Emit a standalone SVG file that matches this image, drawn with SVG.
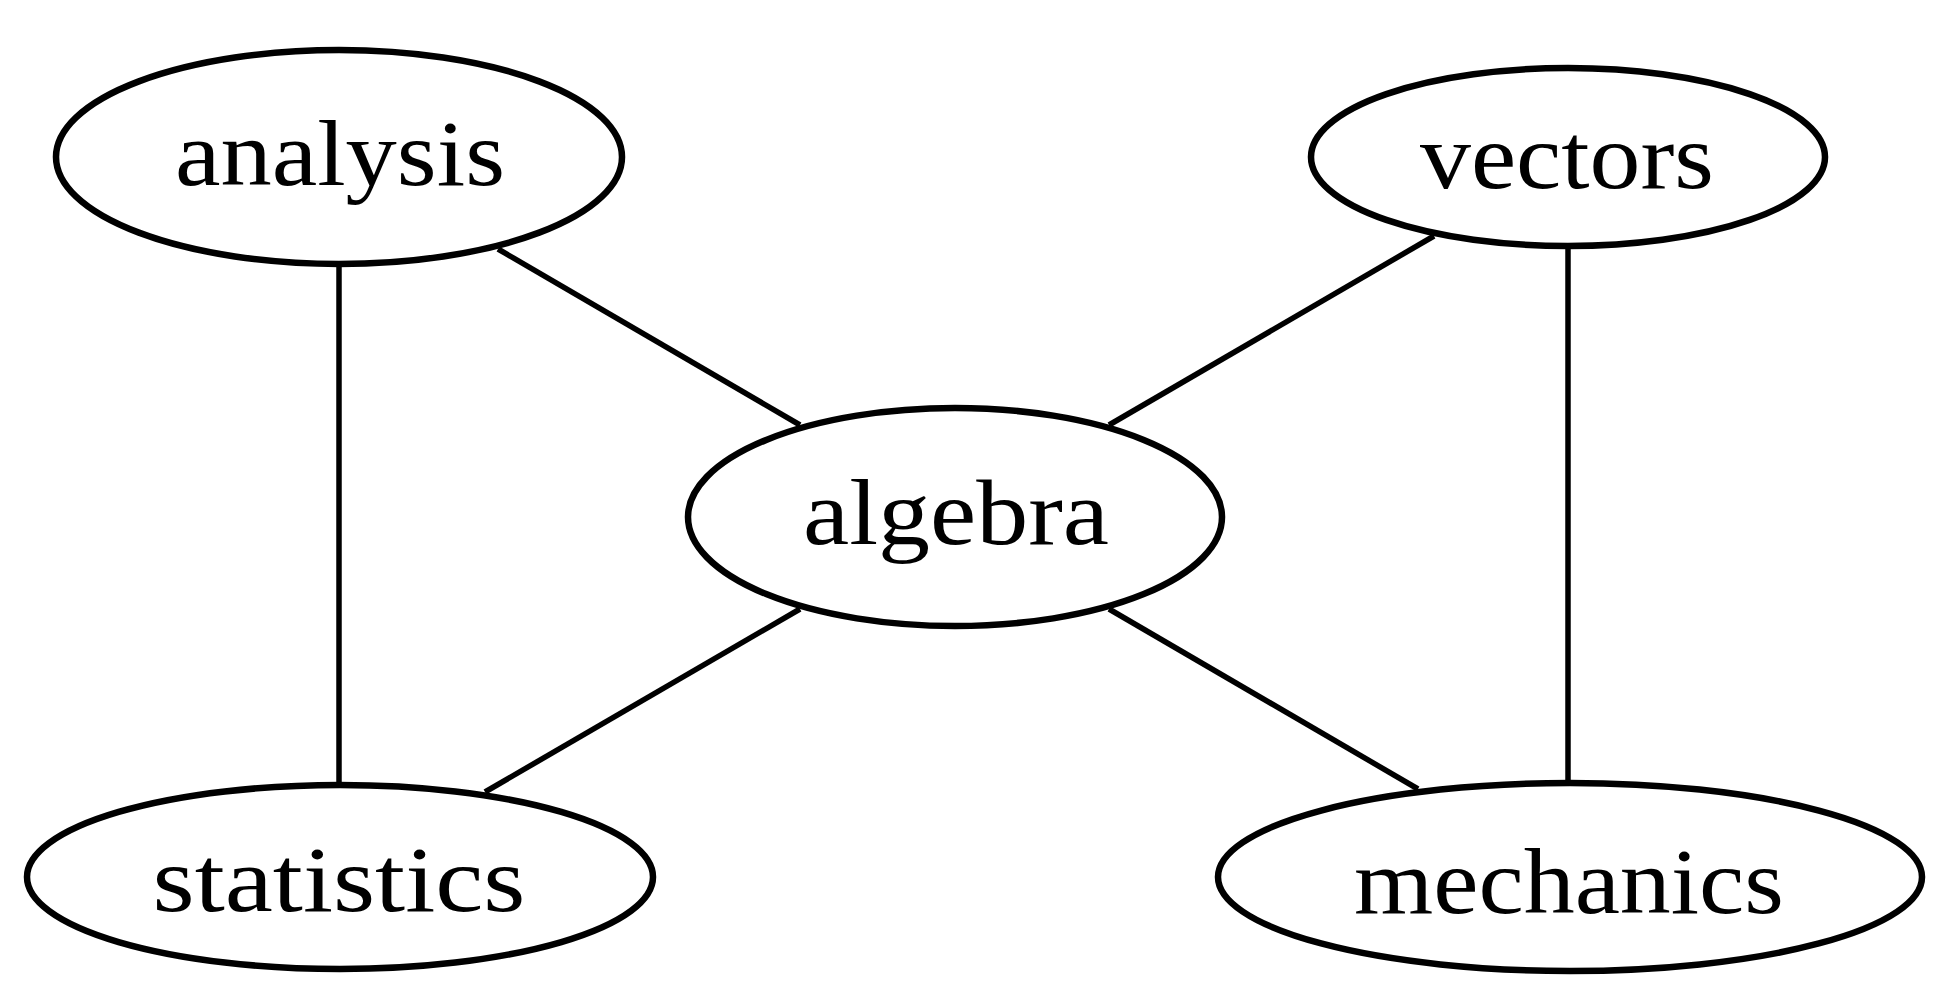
<svg xmlns="http://www.w3.org/2000/svg" width="1956" height="1000" viewBox="0 0 1956 1000">
<style>
.node ellipse{fill:none;stroke:#000;stroke-width:6.5}
.node text{font-family:"Liberation Serif","DejaVu Serif",serif;font-size:94px;fill:#000;text-anchor:middle}
.edges line{stroke:#000;stroke-width:5.5}
</style>
<rect width="1956" height="1000" fill="#fff"/>
<g id="edges" class="edges">
<line x1="339" y1="264" x2="339" y2="785"/>
<line x1="1568" y1="246" x2="1568" y2="783"/>
<line x1="498" y1="249" x2="800" y2="425"/>
<line x1="1434" y1="236" x2="1109" y2="425"/>
<line x1="800" y1="609" x2="485" y2="792"/>
<line x1="1109" y1="609" x2="1418" y2="789"/>
</g>
<g id="analysis" class="node"><ellipse cx="339" cy="157" rx="283" ry="107"/><text x="340" y="185" textLength="330" lengthAdjust="spacingAndGlyphs">analysis</text></g>
<g id="vectors" class="node"><ellipse cx="1568" cy="157" rx="257" ry="89"/><text x="1567" y="188" textLength="294" lengthAdjust="spacingAndGlyphs">vectors</text></g>
<g id="algebra" class="node"><ellipse cx="955" cy="517" rx="267" ry="109"/><text x="956" y="544" textLength="306" lengthAdjust="spacingAndGlyphs">algebra</text></g>
<g id="statistics" class="node"><ellipse cx="340" cy="877" rx="313" ry="92"/><text x="339" y="911" textLength="373" lengthAdjust="spacingAndGlyphs">statistics</text></g>
<g id="mechanics" class="node"><ellipse cx="1570" cy="877" rx="352" ry="94"/><text x="1569" y="913" textLength="430" lengthAdjust="spacingAndGlyphs">mechanics</text></g>
</svg>
